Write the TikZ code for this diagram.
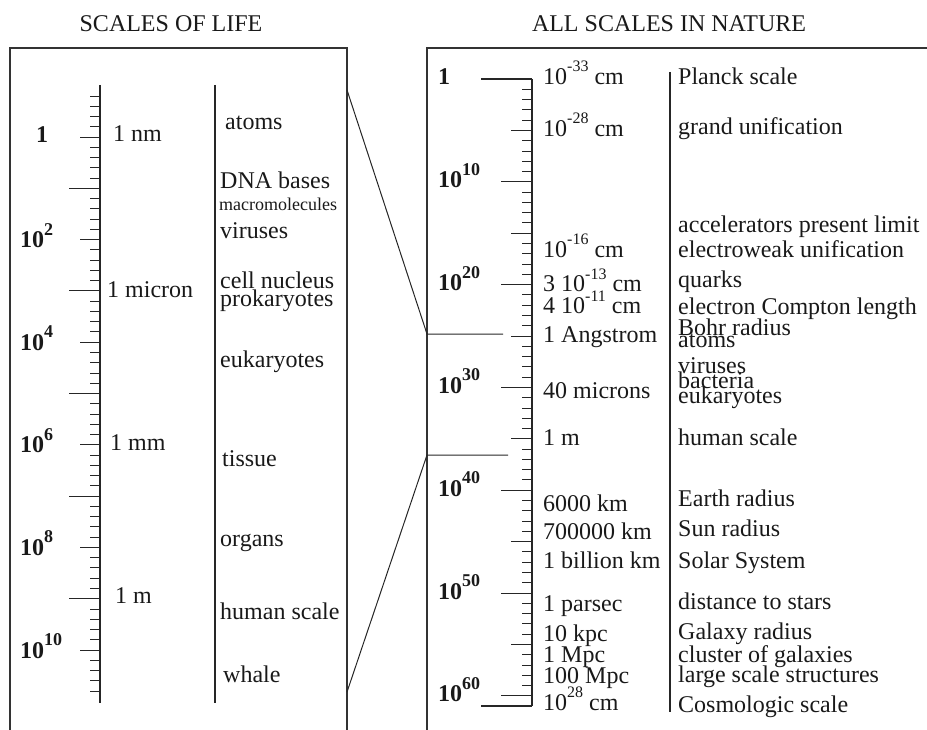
\documentclass[tikz,border=0pt]{standalone}
\usepackage{fontspec}
\setmainfont{Liberation Serif}
\usetikzlibrary{positioning}
\tikzset{
  frame/.style={draw=black!80, line width=1.3pt},
  ruler/.style={draw=black!85, line width=1.1pt},
  tickmark/.style={draw=black!85, line width=0.9pt},
  endtick/.style={draw=black!85, line width=1.8pt},
  link/.style={draw=black!85, line width=1pt},
  lbl/.style={anchor=base west, inner sep=0pt, text=black!90, font=\fontsize{24}{26}\selectfont},
  smalllbl/.style={lbl, font=\fontsize{18}{20}\selectfont},
  decade/.style={lbl, font=\fontsize{24}{26}\selectfont\bfseries},
  paneltitle/.style={anchor=base, inner sep=0pt, text=black!90, font=\fontsize{24}{26}\selectfont}
}
\newcommand{\tenp}[1]{10\raisebox{13pt}{\fontsize{16}{16}\selectfont #1}}
\newcommand{\tenb}[1]{10\raisebox{12.5pt}{\fontsize{18}{18}\selectfont #1}}

\begin{document}
\begin{tikzpicture}[x=1pt, y=-1pt]
\useasboundingbox (0,0) rectangle (927,730);
% titles
\node[paneltitle] (lifetitle) at (171,32) {SCALES OF LIFE};
\node[paneltitle] (naturetitle) at (669,32) {ALL SCALES IN NATURE};
% frames
\draw[frame] (10,730) |- (347,48) -- (347,730);
\draw[frame] (427,730) |- (927,48);

% left ruler: five ticks per decade
\draw[ruler] (100,85) -- (100,703);
\draw[ruler] (215,85) -- (215,703);
\foreach \k in {-4,...,54}{
  \pgfmathsetmacro{\xs}{mod(\k,10)==0 ? 80 : (mod(\k,5)==0 ? 69 : 90)}
  \draw[tickmark] (\xs,{137+(\k)*10.26}) -- (100,{137+(\k)*10.26});
}
\node[decade] (lifeone) at (36,143) {1};
\foreach \e [count=\i] in {2,4,6,8,10}
  \node[decade] (lifedec\i) at (20,{145+\i*102.6}) {\tenb{\e}};

\node[lbl] (nm) at (113,142) {1 nm};
\node[lbl] (micron) at (107,298) {1 micron};
\node[lbl] (mm) at (110,450) {1 mm};
\node[lbl] (metre) at (115,603) {1 m};

\foreach \x/\y/\txt [count=\i] in {225/130/atoms, 220/189/DNA bases, 220/239/viruses,
    220/289/cell nucleus, 220/307/prokaryotes, 220/367/eukaryotes, 222/466/tissue,
    220/546/organs, 220/619/human scale, 223/682/whale}
  \node[lbl] (life\i) at (\x,\y) {\txt};
\node[smalllbl] (macro) at (219,211) {macromolecules};

% right ruler: one tick per decade
\draw[ruler] (532,79) -- (532,706);
\draw[ruler] (670,72) -- (670,712);
\foreach \d in {1,...,60}{
  \pgfmathsetmacro{\xs}{mod(\d,10)==0 ? 501 : (mod(\d,5)==0 ? 511 : 522)}
  \draw[tickmark] (\xs,{79+\d*10.28}) -- (532,{79+\d*10.28});
}
\draw[endtick] (481,79) -- (532,79);
\draw[endtick] (481,706) -- (532,706);

\node[decade] (natureone) at (438,85) {1};
\foreach \e [count=\i] in {10,20,...,60}
  \node[decade] (naturedec\i) at (438,{85+\i*102.8}) {\tenb{\e}};

\foreach \y/\txt [count=\i] in {85/\tenp{-33} cm, 137/\tenp{-28} cm, 258/\tenp{-16} cm,
    292/3 \tenp{-13} cm, 314/4 \tenp{-11} cm, 342/1 Angstrom, 398/40 microns, 445/1 m,
    511/6000 km, 539/700000 km, 568/1 billion km, 611/1 parsec, 641/10 kpc,
    662/1 Mpc, 683/100 Mpc, 710/\tenp{28} cm}
  \node[lbl] (size\i) at (543,\y) {\txt};

\foreach \y/\txt [count=\i] in {85/Planck scale, 135/grand unification,
    233/accelerators present limit, 258/electroweak unification, 288/quarks,
    315/electron Compton length, 335/Bohr radius, 348/atoms, 373/viruses,
    388/bacteria, 403/eukaryotes, 445/human scale, 506/Earth radius, 536/Sun radius,
    568/Solar System, 609/distance to stars, 639/Galaxy radius,
    662/cluster of galaxies, 682/large scale structures, 712/Cosmologic scale}
  \node[lbl] (scale\i) at (678,\y) {\txt};

% zoom lines between the panels
\coordinate (lifetop) at (347,90);
\coordinate (lifebot) at (347,692);
\coordinate (naturetop) at (427,334);
\coordinate (naturebot) at (427,455);
\coordinate (angstrom) at (503,334);
\coordinate (hundredm) at (508,455);
\draw[link] (lifetop) -- (naturetop) -- (angstrom);
\draw[link] (lifebot) -- (naturebot) -- (hundredm);
\end{tikzpicture}
\end{document}
